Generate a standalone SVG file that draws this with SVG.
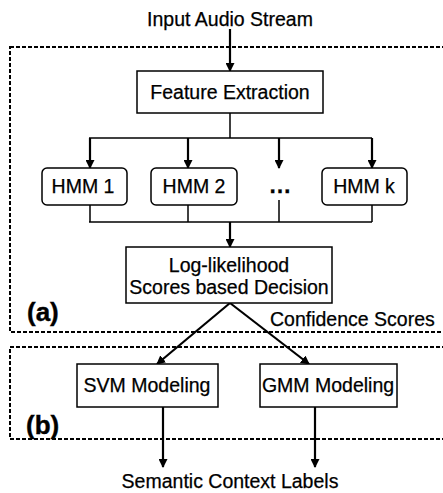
<svg xmlns="http://www.w3.org/2000/svg" width="443" height="493" viewBox="0 0 443 493">
<style>
text{font-family:"Liberation Sans",Arial,sans-serif;font-size:19.5px;fill:#000;stroke:#000;stroke-width:0.25}
.c{text-anchor:middle}
.b{font-weight:bold;font-size:26px;stroke-width:0.4}
.box{fill:#fff;stroke:#000;stroke-width:1.5}
.dash{fill:none;stroke:#000;stroke-width:2;stroke-dasharray:4 2}
.ln{fill:none;stroke:#000;stroke-width:1.5}
.ar{fill:none;stroke:#000;stroke-width:2.2;marker-end:url(#ah)}
</style>
<defs>
<marker id="ah" markerWidth="9" markerHeight="9" refX="8" refY="4.5" orient="auto" markerUnits="userSpaceOnUse">
<path d="M0,0 L9,4.5 L0,9 Z" fill="#000"/>
</marker>
</defs>
<g id="regions">
<rect class="dash" x="10" y="47" width="445" height="285"/>
<rect class="dash" x="10" y="347" width="445" height="92"/>
<text class="b" x="27" y="321">(a)</text>
<text class="b" x="26" y="434">(b)</text>
</g>
<g id="connectors">
<line class="ar" x1="230" y1="29" x2="230" y2="71"/>
<line class="ln" x1="230" y1="113" x2="230" y2="138"/>
<line class="ln" x1="89" y1="138" x2="372" y2="138"/>
<line class="ar" x1="90" y1="138" x2="90" y2="168"/>
<line class="ar" x1="188" y1="138" x2="188" y2="168"/>
<line class="ar" x1="279" y1="138" x2="279" y2="168"/>
<line class="ar" x1="372" y1="138" x2="372" y2="168"/>
<line class="ln" x1="90" y1="205" x2="90" y2="222"/>
<line class="ln" x1="188" y1="205" x2="188" y2="222"/>
<line class="ln" x1="279" y1="200" x2="279" y2="222"/>
<line class="ln" x1="372" y1="205" x2="372" y2="222"/>
<line class="ln" x1="89" y1="222" x2="372" y2="222"/>
<line class="ar" x1="230" y1="222" x2="230" y2="247"/>
<line class="ar" x1="230" y1="303" x2="157" y2="364"/>
<line class="ar" x1="230" y1="303" x2="309" y2="364"/>
<line class="ar" x1="163" y1="407" x2="163" y2="467"/>
<line class="ar" x1="315" y1="407" x2="315" y2="467"/>
</g>
<g id="input"><text class="c" x="230" y="26">Input Audio Stream</text></g>
<g id="feature"><rect class="box" x="137" y="71" width="186" height="42"/><text class="c" x="230" y="99">Feature Extraction</text></g>
<g id="hmm1"><rect class="box" x="42" y="168" width="85" height="37" rx="5"/><text class="c" x="83" y="193">HMM 1</text></g>
<g id="hmm2"><rect class="box" x="151" y="168" width="86" height="37" rx="5"/><text class="c" x="194" y="193">HMM 2</text></g>
<g id="dots"><text class="c" x="280" y="193" style="font-size:23px;font-weight:bold">…</text></g>
<g id="hmmk"><rect class="box" x="322" y="168" width="85" height="37" rx="5"/><text class="c" x="364" y="193">HMM k</text></g>
<g id="decision"><rect class="box" x="126" y="247" width="206" height="56"/><text class="c" x="229" y="272">Log-likelihood</text><text class="c" x="229" y="294">Scores based Decision</text></g>
<g id="conf"><text x="270" y="326">Confidence Scores</text></g>
<g id="svm"><rect class="box" x="77" y="364" width="141" height="43"/><text class="c" x="147" y="392">SVM Modeling</text></g>
<g id="gmm"><rect class="box" x="260" y="364" width="137" height="43"/><text class="c" x="328" y="392">GMM Modeling</text></g>
<g id="output"><text class="c" x="230" y="488">Semantic Context Labels</text></g>
</svg>
